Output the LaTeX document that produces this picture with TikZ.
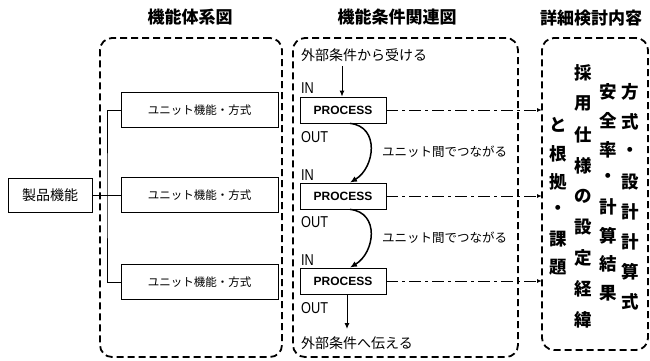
\documentclass[tikz,border=0pt]{standalone}
\usepackage{fontspec}
\setmainfont{Noto Sans CJK JP}
\newfontfamily\lat{Liberation Sans}
\usetikzlibrary{arrows.meta,calc}
\begin{document}
\begin{tikzpicture}[x=1pt,y=-1pt,
  dbox/.style={draw, dash pattern=on 7pt off 4pt, line width=1.8pt, rounded corners=12pt, anchor=north west, inner sep=0pt, outer sep=0pt},
  ttl/.style={font=\fontsize{17}{17}\selectfont, inner sep=0pt},
  ubox/.style={draw, line width=0.8pt, minimum width=157pt, minimum height=35pt, inner sep=0pt, font=\fontsize{11.5}{11.5}\selectfont},
  pbox/.style={draw, line width=0.8pt, minimum width=86pt, minimum height=26pt, inner sep=0pt, font=\lat\bfseries\fontsize{12}{12}\selectfont},
  io/.style={anchor=west, inner sep=0pt, font=\lat\fontsize{15}{15}\selectfont},
  lbl/.style={anchor=west, inner sep=0pt, font=\fontsize{14}{14}\selectfont},
  lbs/.style={anchor=west, inner sep=0pt, font=\fontsize{12.5}{12.5}\selectfont},
  vt/.style={inner sep=0pt, font=\bfseries\fontsize{17.5}{17.5}\selectfont},
  ln/.style={line width=0.8pt},
  arr/.style={line width=1pt, -{Latex[length=6pt,width=5pt]}},
  carr/.style={line width=1.5pt, -{Latex[length=7pt,width=6pt]}},
  dd/.style={line width=1pt, dash pattern=on 12pt off 4pt on 3pt off 4pt, -{Latex[length=5pt,width=4pt]}}
]
\useasboundingbox (0,0) rectangle (650,360);

% titles
\node[ttl] (t1) at (190,17) {\bfseries 機能体系図};
\node[ttl] (t2) at (397,17) {\bfseries 機能条件関連図};
\node[ttl] (t3) at (591,18) {\bfseries 詳細検討内容};

% dashed group boxes
\node[dbox, minimum width=182pt, minimum height=319pt] (d1) at (100,38) {};
\node[dbox, minimum width=225pt, minimum height=319pt] (d2) at (293,38) {};
\node[dbox, minimum width=106pt, minimum height=312pt] (d3) at (542,38) {};

% left tree
\node[draw, line width=0.8pt, minimum width=84pt, minimum height=34pt, inner sep=0pt, font=\fontsize{14}{14}\selectfont] (prod) at (50,195) {製品機能};
\node[ubox] (u1) at (199.5,110) {ユニット機能・方式};
\node[ubox] (u2) at (199.5,195) {ユニット機能・方式};
\node[ubox] (u3) at (199.5,282) {ユニット機能・方式};
\coordinate (tr) at (107,195);
\draw[ln] (prod.east) -- (u2.west);
\draw[ln] (u1.west) -| (tr) |- (u3.west);

% process chain
\node[pbox] (p1) at (343,110) {PROCESS};
\node[pbox] (p2) at (343,196) {PROCESS};
\node[pbox] (p3) at (343,281) {PROCESS};

\node[io] (in1) at (301,88) {\scalebox{0.85}[1.05]{IN}};
\node[io] (in2) at (301,175) {\scalebox{0.85}[1.05]{IN}};
\node[io] (in3) at (301,260) {\scalebox{0.85}[1.05]{IN}};
\node[io] (out1) at (301,137) {\scalebox{0.85}[1.05]{OUT}};
\node[io] (out2) at (301,222) {\scalebox{0.85}[1.05]{OUT}};
\node[io] (out3) at (301,308) {\scalebox{0.85}[1.05]{OUT}};

\node[lbl] (ext1) at (301,55) {外部条件から受ける};
\node[lbl] (ext2) at (301,343) {外部条件へ伝える};
\node[lbs] (lk1) at (382,152) {ユニット間でつながる};
\node[lbs] (lk2) at (382,238) {ユニット間でつながる};

\coordinate (instart) at (342,66);
\draw[arr] (instart) -- (instart |- p1.north);
\coordinate (outend) at (347,329);
\draw[arr] (p3.south -| outend) -- (outend);

\draw[carr] ($(p1.south)+(7,0)$) .. controls ($(p1.south)+(37,3)$) and ($(p2.north)+(32,-15)$) .. ($(p2.north)+(7,0)$);
\draw[carr] ($(p2.south)+(7,0)$) .. controls ($(p2.south)+(37,3)$) and ($(p3.north)+(32,-15)$) .. ($(p3.north)+(7,0)$);

\draw[dd] (p1.east) -- (p1.east -| d3.west);
\draw[dd] (p2.east) -- (p2.east -| d3.west);
\draw[dd] (p3.east) -- (p3.east -| d3.west);

% vertical text columns
\foreach \ch [count=\i from 0] in {方,式,・,設,計,計,算,式}
  \node[vt] (ca\i) at (630,92+30*\i) {\ch};
\foreach \ch [count=\i from 0] in {安,全,率,・,計,算,結,果}
  \node[vt] (cb\i) at (608,92+28.7*\i) {\ch};
\foreach \ch [count=\i from 0] in {採,用,仕,様,の,設,定,経,緯}
  \node[vt] (cc\i) at (583,73+30.8*\i) {\ch};
\foreach \ch [count=\i from 0] in {と,根,拠,・,課,題}
  \node[vt] (cd\i) at (558,125+28.4*\i) {\ch};
\end{tikzpicture}
\end{document}
